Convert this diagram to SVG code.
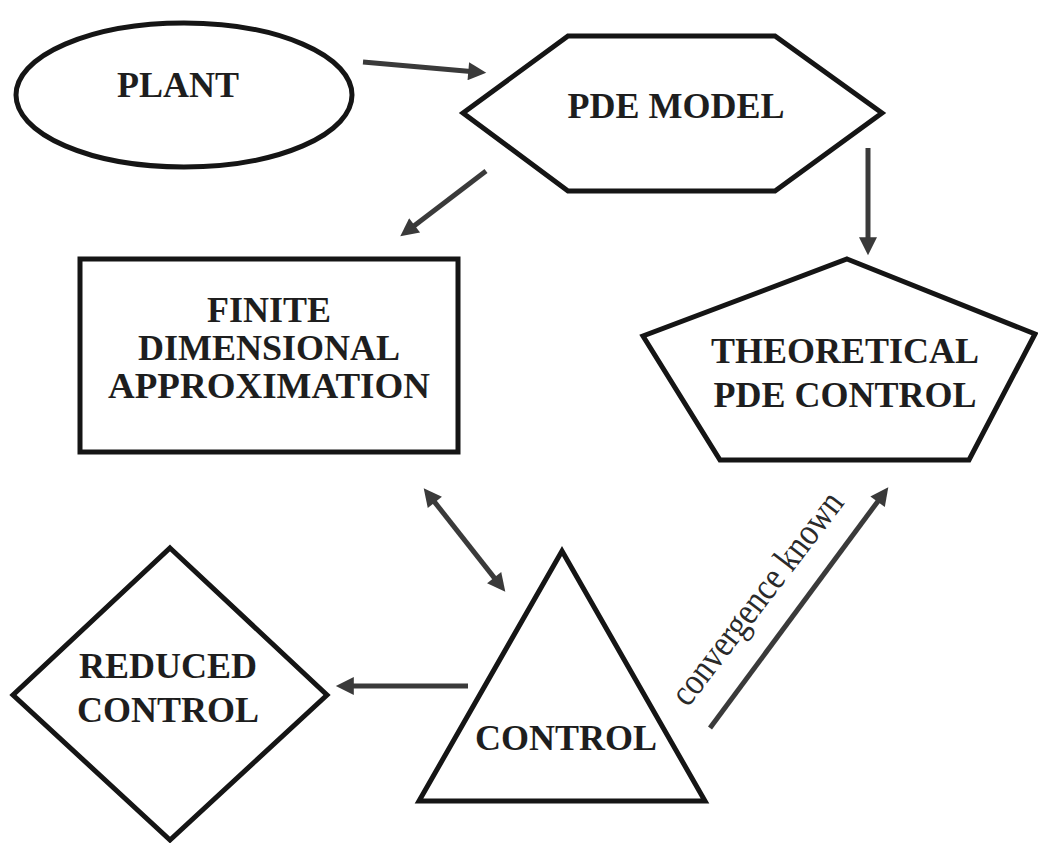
<svg xmlns="http://www.w3.org/2000/svg" width="1038" height="843" viewBox="0 0 1038 843">
<style>
.shape{fill:#fff;stroke:#151515;stroke-width:5;stroke-linejoin:miter}
.lbl{font-family:"Liberation Serif","Times New Roman",serif;font-weight:bold;font-size:36px;fill:#1e1e1e;text-anchor:middle}
.conn{stroke:#3a3a3a;stroke-width:5;fill:none}
.note{font-family:"Liberation Serif","Times New Roman",serif;font-size:38px;fill:#2a2a2a}
</style>
<defs>
<marker id="ah" viewBox="0 0 10 10" refX="3" refY="5" markerWidth="22" markerHeight="18" markerUnits="userSpaceOnUse" orient="auto-start-reverse">
<path d="M0,0 L10,5 L0,10 z" fill="#3a3a3a"/>
</marker>
</defs>
<rect width="1038" height="843" fill="#fff"/>
<g id="plant">
<ellipse class="shape" cx="184" cy="95" rx="168" ry="72" stroke-width="4"/>
<text class="lbl" x="178" y="97">PLANT</text>
</g>
<g id="pde-model">
<polygon class="shape" points="463,113 568,36 775,36 882,113 775,191 568,191" stroke-width="6"/>
<text class="lbl" x="676" y="118">PDE MODEL</text>
</g>
<g id="finite">
<rect class="shape" x="80" y="259" width="378" height="193" stroke-width="4"/>
<text class="lbl" x="269" y="322">FINITE</text>
<text class="lbl" x="269" y="360">DIMENSIONAL</text>
<text class="lbl" x="269" y="398" textLength="322" lengthAdjust="spacingAndGlyphs">APPROXIMATION</text>
</g>
<g id="theoretical">
<polygon class="shape" points="847,259 1035,334 969,460 720,460 643,336" stroke-width="4"/>
<text class="lbl" x="845" y="363">THEORETICAL</text>
<text class="lbl" x="845" y="407">PDE CONTROL</text>
</g>
<g id="control">
<polygon class="shape" points="562,551 705,801 419,801" stroke-width="4"/>
<text class="lbl" x="566" y="750">CONTROL</text>
</g>
<g id="reduced">
<polygon class="shape" points="170,548 327,695 170,840 13,695" stroke-width="4"/>
<text class="lbl" x="168" y="678">REDUCED</text>
<text class="lbl" x="168" y="722">CONTROL</text>
</g>
<g id="connectors">
<line class="conn" x1="363" y1="62" x2="473.7" y2="71.7" marker-end="url(#ah)"/>
<line class="conn" x1="486" y1="171" x2="410.3" y2="228.7" marker-end="url(#ah)"/>
<line class="conn" x1="868" y1="148" x2="868" y2="242.6" marker-end="url(#ah)"/>
<line class="conn" x1="431.5" y1="498.1" x2="497.5" y2="581.9" marker-start="url(#ah)" marker-end="url(#ah)"/>
<line class="conn" x1="468" y1="686" x2="348.4" y2="686" marker-end="url(#ah)"/>
<line class="conn" x1="710" y1="728" x2="880.8" y2="497.4" marker-end="url(#ah)"/>
<text class="note" transform="translate(688,708) rotate(-52.5)" textLength="258" lengthAdjust="spacingAndGlyphs">convergence known</text>
</g>
</svg>
